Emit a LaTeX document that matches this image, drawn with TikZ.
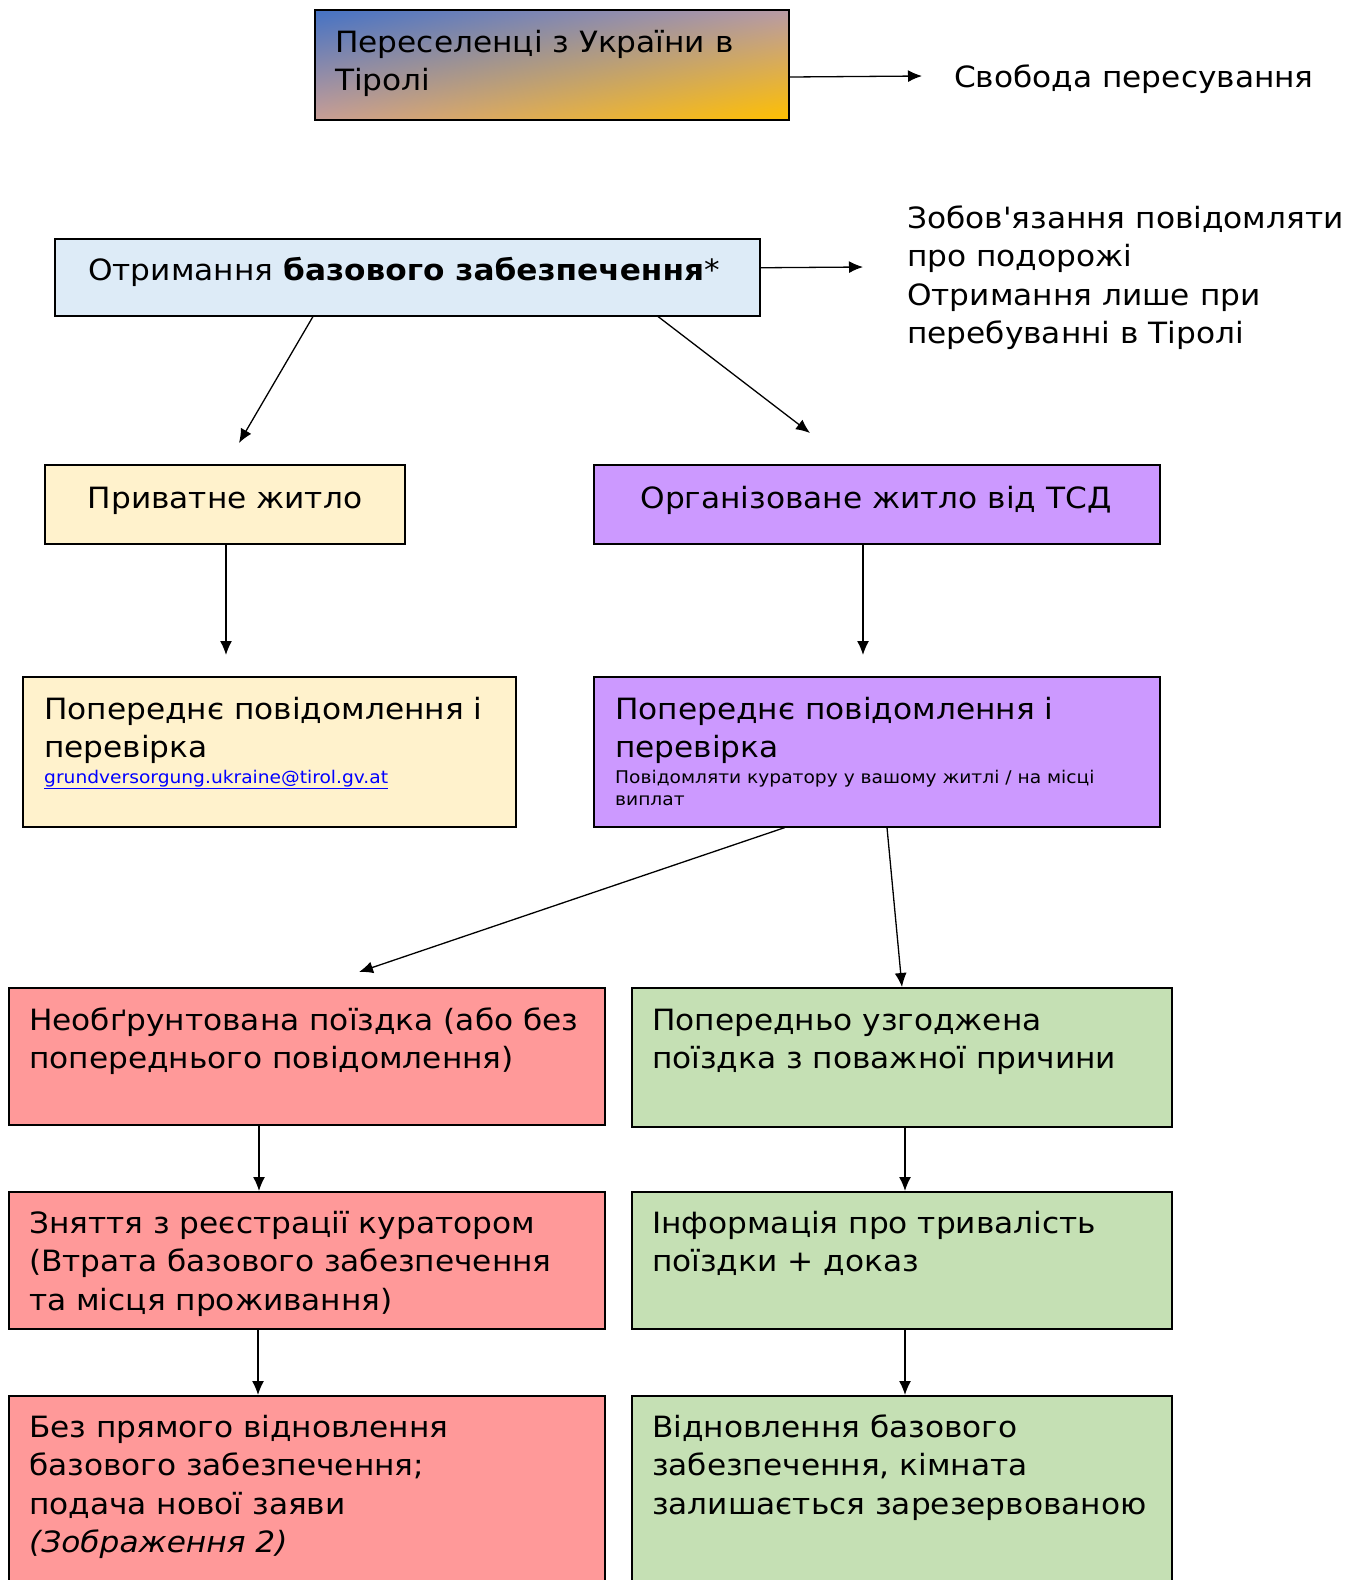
\documentclass[tikz,border=0pt]{standalone}
\usepackage{fontspec}
\setmainfont{DejaVu Sans}[FakeStretch=1.065, Ligatures=TeXOff]
\usetikzlibrary{arrows.meta,shadings}

\definecolor{ukblue}{HTML}{4472C4}
\definecolor{ukgold}{HTML}{FFC000}
\definecolor{ukmauve}{RGB}{185,155,165}
\definecolor{uktan}{RGB}{200,158,150}
\definecolor{basefill}{HTML}{DDEBF7}
\definecolor{privfill}{HTML}{FFF2CC}
\definecolor{orgfill}{HTML}{CC99FF}
\definecolor{redfill}{HTML}{FF9999}
\definecolor{greenfill}{HTML}{C5E0B4}
\definecolor{linkblue}{HTML}{0000FF}

\begin{document}
\begin{tikzpicture}
  [x=1pt, y=-1pt,
   every node/.style={font=\fontsize{29.3}{38.5}\selectfont},
   box/.style={draw=black, line width=1.5pt, anchor=north west, inner sep=0pt},
   txt/.style={anchor=base west, align=left, inner sep=0pt},
   ctxt/.style={anchor=base, align=center, inner sep=0pt},
   small/.style={font=\fontsize{17.5}{22}\selectfont},
   arr/.style={-{Latex[length=14pt,width=12pt]}, line width=1.3pt}]
  \useasboundingbox (0,0) rectangle (1362,1580);

  % boxes
  \node[box, line width=2pt, upper left=ukblue, upper right=ukmauve, lower left=uktan,
        lower right=ukgold, minimum width=474, minimum height=110] (refugees) at (314,9) {};
  \node[box, fill=basefill, minimum width=705, minimum height=77] (basic) at (54,238) {};
  \node[box, fill=privfill, minimum width=360, minimum height=79] (private) at (44,464) {};
  \node[box, fill=orgfill, minimum width=566, minimum height=79] (organised) at (593,464) {};
  \node[box, fill=privfill, minimum width=493, minimum height=150] (privcheck) at (22,676) {};
  \node[box, fill=orgfill, minimum width=566, minimum height=150] (orgcheck) at (593,676) {};
  \node[box, fill=redfill, minimum width=596, minimum height=137] (unjust) at (8,987) {};
  \node[box, fill=greenfill, minimum width=540, minimum height=139] (agreed) at (631,987) {};
  \node[box, fill=redfill, minimum width=596, minimum height=137] (dereg) at (8,1191) {};
  \node[box, fill=greenfill, minimum width=540, minimum height=137] (info) at (631,1191) {};
  \node[box, fill=redfill, minimum width=596, minimum height=220] (noresume) at (8,1395) {};
  \node[box, fill=greenfill, minimum width=540, minimum height=220] (resume) at (631,1395) {};

  % texts (multi-line nodes sit on the baseline of their last line)
  \node[txt] (refugeestxt) at (335,90.5) {Переселенці з України в\\Тіролі};
  \node[txt] (freedom) at (954,87) {Свобода пересування};
  \node[ctxt] (basictxt) at (404,280) {Отримання \textbf{базового забезпечення}*};
  \node[txt] (duty) at (907,343.5) {Зобов'язання повідомляти\\про подорожі\\Отримання лише при\\перебуванні в Тіролі};
  \node[ctxt] (privatetxt) at (225,508) {Приватне житло};
  \node[ctxt] (organisedtxt) at (876,508) {Організоване житло від ТСД};
  \node[txt] (privchecktxt) at (44,757.5) {Попереднє повідомлення і\\перевірка};
  \node[txt, small, text=linkblue] (email) at (44,783) {\underline{grundversorgung.ukraine@tirol.gv.at}};
  \node[txt] (orgchecktxt) at (615,757.5) {Попереднє повідомлення і\\перевірка};
  \node[txt, small] (curator) at (615,805) {Повідомляти куратору у вашому житлі / на місці\\виплат};
  \node[txt] (unjusttxt) at (29,1068.5) {Необґрунтована поїздка (або без\\попереднього повідомлення)};
  \node[txt] (agreedtxt) at (652,1068.5) {Попередньо узгоджена\\поїздка з поважної причини};
  \node[txt] (deregtxt) at (29,1310) {Зняття з реєстрації куратором\\(Втрата базового забезпечення\\та місця проживання)};
  \node[txt] (infotxt) at (652,1271.5) {Інформація про тривалість\\поїздки + доказ};
  \node[txt] (noresumetxt) at (29,1552.5) {Без прямого відновлення\\базового забезпечення;\\подача нової заяви\\\textit{(Зображення 2)}};
  \node[txt] (resumetxt) at (652,1514) {Відновлення базового\\забезпечення, кімната\\залишається зарезервованою};

  % free arrow ends
  \coordinate (freedomend) at (922,76);
  \coordinate (dutyend) at (863,267);
  \coordinate (privateend) at (239,443);
  \coordinate (organisedend) at (810,433);
  \coordinate (privcheckend) at (226,655);
  \coordinate (orgcheckend) at (863,655);
  \coordinate (unjustend) at (359,972);

  % connectors
  \draw[arr] ([yshift=-12pt]refugees.east) -- (freedomend);
  \draw[arr] ([yshift=9.5pt]basic.east) -- (dutyend);
  \draw[arr] ([xshift=259pt]basic.south west) -- (privateend);
  \draw[arr] ([xshift=604pt]basic.south west) -- (organisedend);
  \draw[arr] ([xshift=182pt]private.south west) -- (privcheckend);
  \draw[arr] ([xshift=270pt]organised.south west) -- (orgcheckend);
  \draw[arr] ([xshift=192pt]orgcheck.south west) -- (unjustend);
  \draw[arr] ([xshift=294pt]orgcheck.south west) -- ([xshift=271pt]agreed.north west);
  \draw[arr] ([xshift=251pt]unjust.south west) -- ([xshift=251pt]dereg.north west);
  \draw[arr] ([xshift=274pt]agreed.south west) -- ([xshift=274pt]info.north west);
  \draw[arr] ([xshift=250pt]dereg.south west) -- ([xshift=250pt]noresume.north west);
  \draw[arr] ([xshift=274pt]info.south west) -- ([xshift=274pt]resume.north west);
\end{tikzpicture}
\end{document}
